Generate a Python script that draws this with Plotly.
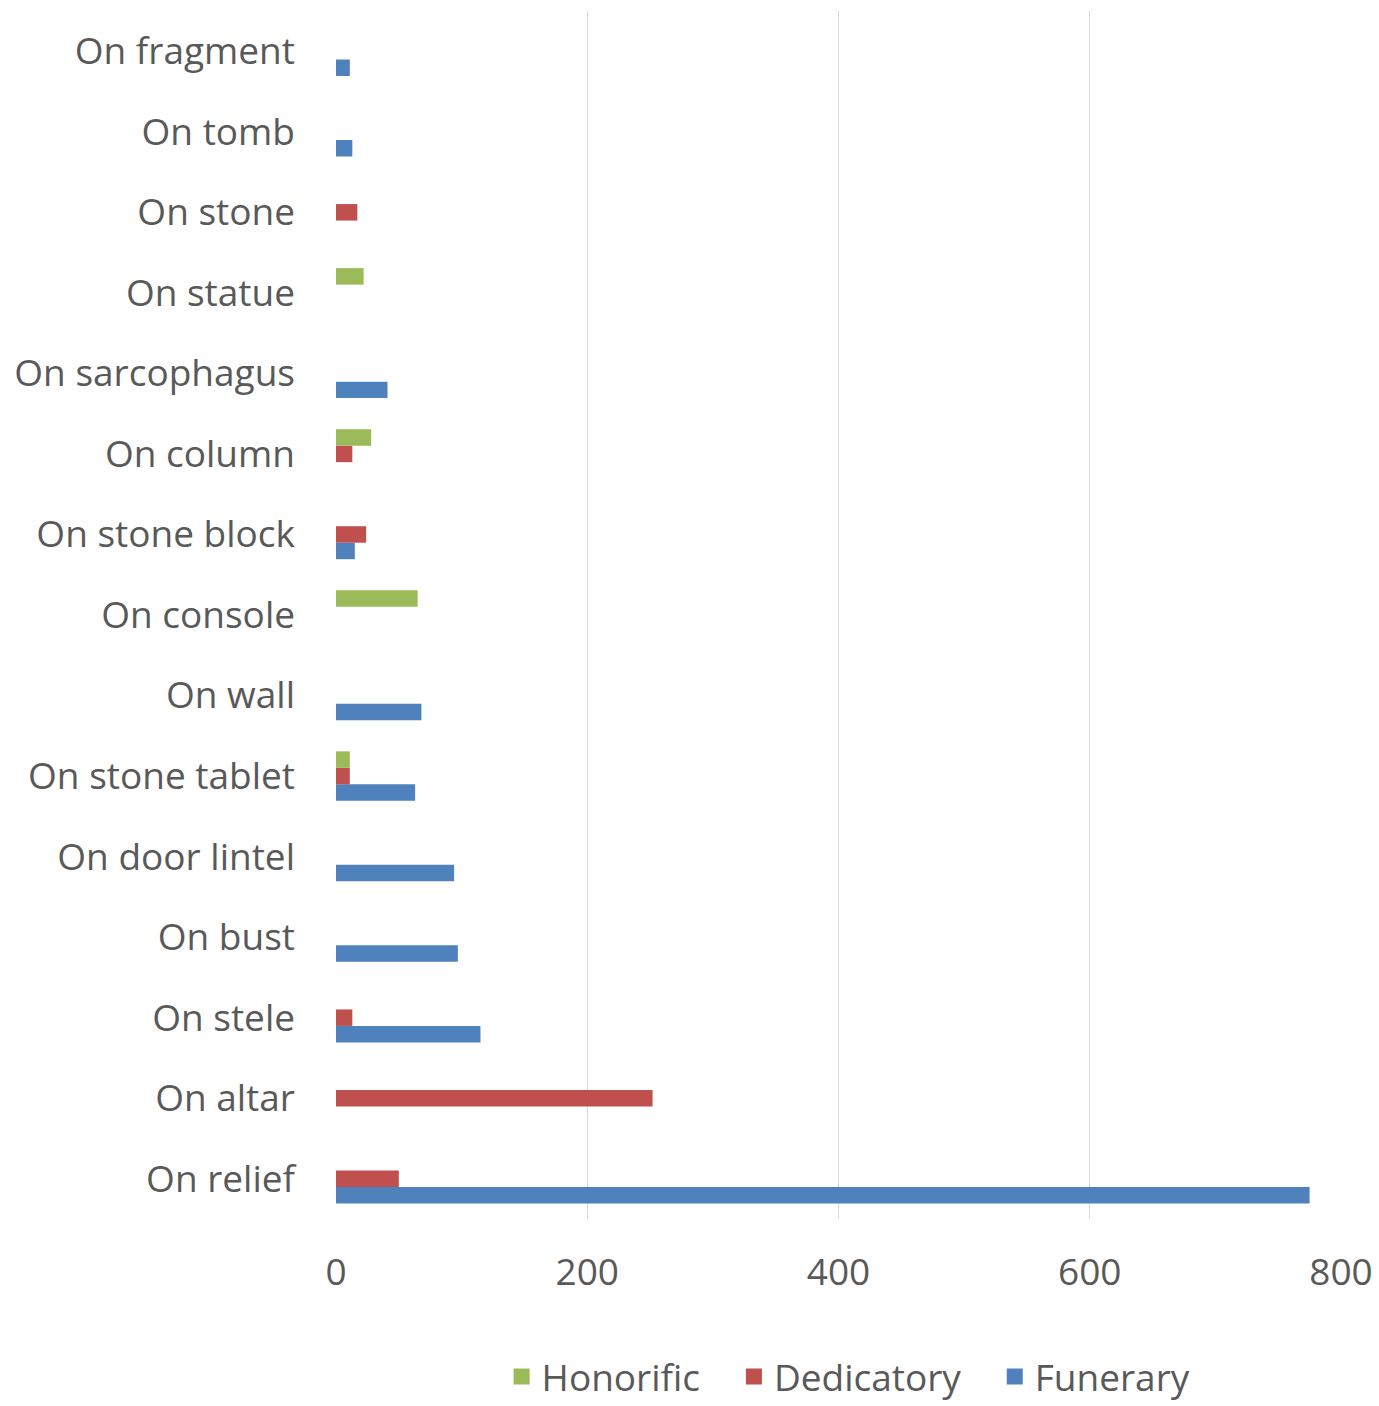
import plotly.graph_objects as go

categories = ["On relief", "On altar", "On stele", "On bust", "On door lintel",
              "On stone tablet", "On wall", "On console", "On stone block",
              "On column", "On sarcophagus", "On statue", "On stone", "On tomb",
              "On fragment"]
funerary = [775, 0, 115, 97, 94, 63, 68, 0, 15, 0, 41, 0, 0, 13, 11]
dedicatory = [50, 252, 13, 0, 0, 11, 0, 0, 24, 13, 0, 0, 17, 0, 0]
honorific = [0, 0, 0, 0, 0, 11, 0, 65, 0, 28, 0, 22, 0, 0, 0]
x_ticks = [0, 200, 400, 600, 800]

FONT = "Open Sans"
GRAY = "#595959"
FS = 37
series = [("Funerary", funerary, "#4f81bd"),
          ("Dedicatory", dedicatory, "#c0504d"),
          ("Honorific", honorific, "#9bbb59")]

fig = go.Figure()
for name, vals, col in series:
    fig.add_trace(go.Bar(y=categories, x=vals, orientation="h", name=name,
                         showlegend=False,
                         marker=dict(color=col, line=dict(width=0))))
# legend entries with larger square swatches
PAD = "\u00a0\u00a0\u00a0"
for name, vals, col in series:
    fig.add_trace(go.Scatter(x=[None], y=[None], mode="markers", name=name + PAD,
                             marker=dict(symbol="square", size=16, color=col),
                             showlegend=True, hoverinfo="skip"))

fig.update_layout(
    width=1379, height=1406,
    paper_bgcolor="white", plot_bgcolor="white",
    barmode="group", bargap=0.386, bargroupgap=0,
    margin=dict(l=336, r=38, t=11, b=187, autoexpand=False),
    font=dict(family=FONT, size=FS, color=GRAY),
    showlegend=True,
    legend=dict(orientation="h", x=0.524, xanchor="center", y=-0.105, yanchor="top",
                traceorder="reversed", font=dict(size=FS, color=GRAY),
                itemwidth=30, tracegroupgap=0),
    xaxis=dict(range=[0, 800], tickvals=x_ticks, ticktext=[str(v) for v in x_ticks],
               showgrid=True, gridcolor="#d9d9d9", gridwidth=1,
               zeroline=False, showline=False, ticks="",
               ticklabelstandoff=28, tickfont=dict(size=FS, color=GRAY)),
    yaxis=dict(categoryorder="array", categoryarray=categories,
               showgrid=False, zeroline=False, showline=False, ticks="",
               ticklabelstandoff=40, tickfont=dict(size=FS, color=GRAY)),
)

fig.write_html("out.html", config={"displayModeBar": False},
               post_script="document.body.style.margin='0px';")
